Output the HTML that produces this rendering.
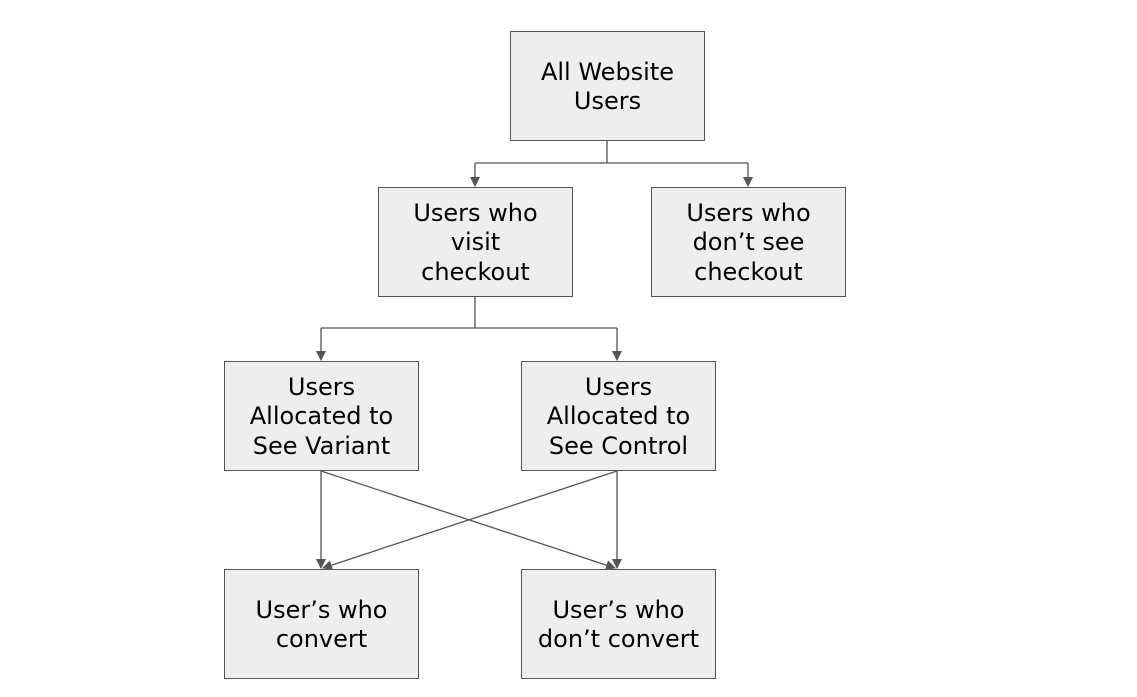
<!DOCTYPE html>
<html><head><style>
body{margin:0;background:#fff;width:1137px;height:697px;position:relative;overflow:hidden}
.b{position:absolute;width:195px;height:110px;background:#eeeeee;border:1px solid #555;box-sizing:border-box;display:flex;align-items:center;justify-content:center;text-align:center;font-family:"DejaVu Sans","Liberation Sans",sans-serif;font-size:24px;line-height:29.5px;color:#000;padding-top:2px}
svg{position:absolute;left:0;top:0}
</style></head><body>
<svg width="1137" height="697">
<defs><marker id="a" markerWidth="10" markerHeight="10" refX="9" refY="5" orient="auto" markerUnits="userSpaceOnUse"><path d="M0,0 L10,5 L0,10 z" fill="#555"/></marker></defs>
<g stroke="#555" stroke-width="1.3" fill="none">
<path d="M607,141 V163"/><path d="M475,163 H748"/>
<path d="M475,163 V186" marker-end="url(#a)"/><path d="M748,163 V186" marker-end="url(#a)"/>
<path d="M475,297 V328 M321,328 H617"/>
<path d="M321,328 V360" marker-end="url(#a)"/><path d="M617,328 V360" marker-end="url(#a)"/>
<path d="M321,471 V568" marker-end="url(#a)"/><path d="M617,471 V568" marker-end="url(#a)"/>
<path d="M321,471 L615,568" marker-end="url(#a)"/><path d="M617,471 L323,568" marker-end="url(#a)"/>
</g></svg>
<div class="b" style="left:510px;top:31px">All Website<br>Users</div>
<div class="b" style="left:378px;top:187px">Users who<br>visit<br>checkout</div>
<div class="b" style="left:651px;top:187px">Users who<br>don’t see<br>checkout</div>
<div class="b" style="left:224px;top:361px">Users<br>Allocated to<br>See Variant</div>
<div class="b" style="left:521px;top:361px">Users<br>Allocated to<br>See Control</div>
<div class="b" style="left:224px;top:569px">User’s who<br>convert</div>
<div class="b" style="left:521px;top:569px">User’s who<br>don’t convert</div>
</body></html>
